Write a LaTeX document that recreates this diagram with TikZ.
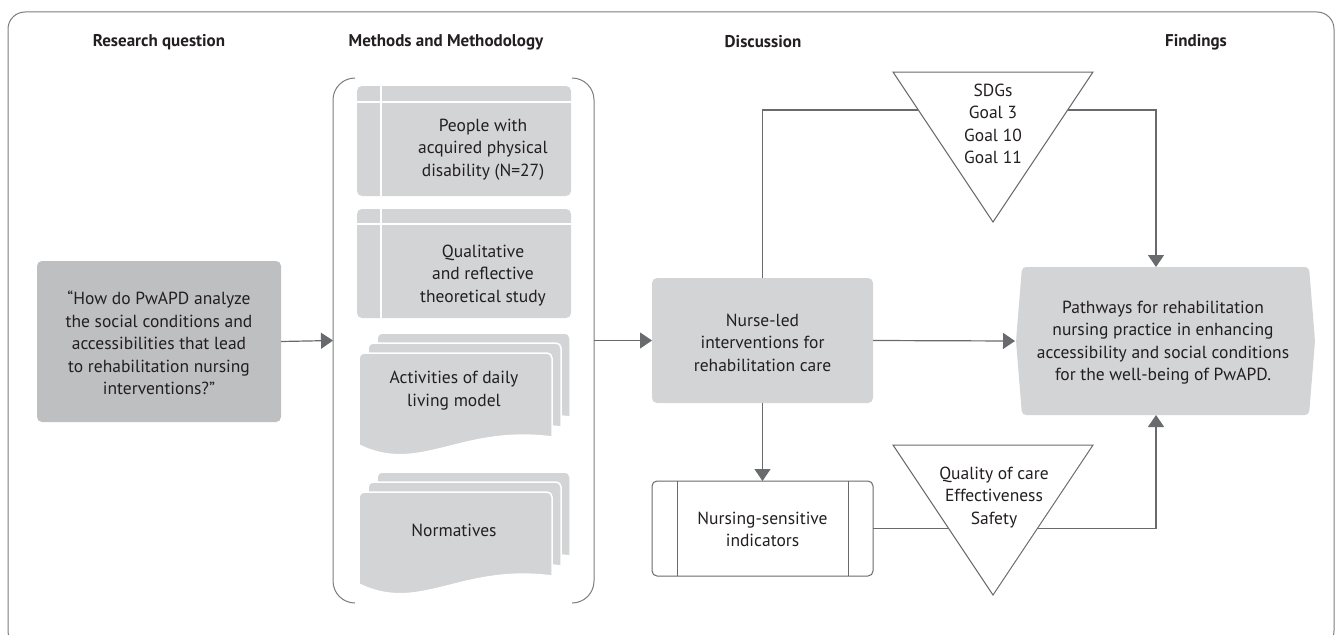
\documentclass[tikz,border=0pt]{standalone}
\usepackage{fontspec}
\setmainfont{PT Sans}
\usetikzlibrary{arrows.meta}

\definecolor{ink}{RGB}{35,31,32}
\definecolor{linegray}{RGB}{105,106,109}
\definecolor{boxlight}{RGB}{211,212,214}
\definecolor{boxdark}{RGB}{190,191,193}
\definecolor{framegray}{RGB}{125,125,127}

\tikzset{
  txt/.style={text=ink, font=\fontsize{17.5}{22.5}\selectfont, align=center, inner sep=0pt},
  heading/.style={text=ink, font=\fontsize{17}{20}\selectfont\bfseries, inner sep=0pt},
  conn/.style={draw=linegray, line width=1.2pt},
  arr/.style={conn, -{Triangle[length=12pt,width=16pt]}},
  slot/.style={inner sep=0pt, outer sep=0pt},
  sheet/.style={fill=boxlight, draw=white, line width=1.5pt},
  cut/.style={draw=white, line width=2pt},
}

% one sheet of a document stack: top-left corner, width 193, right side 84 deep
\newcommand{\docsheet}[2]{%
  \path[sheet] (#1,#2+92) [rounded corners=5pt] -- (#1,#2) -- (#1+193,#2)
    [sharp corners] -- (#1+193,#2+84)
    .. controls (#1+101,#2+72) and (#1+61,#2+122) .. (#1,#2+92) -- cycle;}
\newcommand{\docstack}[2]{%
  \docsheet{#1+18}{#2-20}\docsheet{#1+9}{#2-10}\docsheet{#1}{#2}}

\begin{document}
\begin{tikzpicture}[x=1pt,y=-1pt]
\useasboundingbox (0,0) rectangle (1340,634);
\clip (0,0) rectangle (1340,634);

% outer frame
\draw[framegray, line width=1pt, rounded corners=17pt] (8,12) rectangle (1334,648);

% column headings
\node[heading] (h1) at (159,42) {Research question};
\node[heading] (h2) at (446,42) {Methods and Methodology};
\node[heading] (h3) at (763,42) {Discussion};
\node[heading] (h4) at (1196,42) {Findings};

% research question
\node[slot, fill=boxdark, rounded corners=5pt, minimum width=244pt, minimum height=161pt]
  (rq) at (159,341.5) {};
\node[txt] (rqt) at (159,343) {“How do PwAPD analyze\\the social conditions and\\accessibilities that lead\\to rehabilitation nursing\\interventions?”};

% methods bracket
\node[slot, minimum width=261pt, minimum height=525pt] (meth) at (463.5,340.5) {};
\draw[framegray, line width=1pt, rounded corners=22pt]
  (355,78) -- (333,78) -- (333,603) -- (355,603);
\draw[framegray, line width=1pt, rounded corners=22pt]
  (572,78) -- (594,78) -- (594,603) -- (572,603);

% methods: two panels with a white cross cut
\node[slot, fill=boxlight, rounded corners=5pt, minimum width=214pt, minimum height=110pt]
  (m1) at (464,141) {};
\draw[cut] (381,86) -- (381,196);
\draw[cut] (357,102) -- (571,102);
\node[txt] (m1t) at (483,149.5) {People with\\acquired physical\\disability (N=27)};

\node[slot, fill=boxlight, rounded corners=5pt, minimum width=214pt, minimum height=109pt]
  (m2) at (464,263.5) {};
\draw[cut] (381,209) -- (381,318);
\draw[cut] (357,224) -- (571,224);
\node[txt] (m2t) at (483,275.5) {Qualitative\\and reflective\\theoretical study};

% methods: document stacks
\docstack{359}{353}
\node[txt] (m3t) at (454,390.5) {Activities of daily\\living model};
\docstack{359}{492}
\node[txt] (m4t) at (454,530) {Normatives};

% discussion
\node[slot, fill=boxlight, rounded corners=5pt, minimum width=221pt, minimum height=125pt]
  (nurse) at (762.5,340.5) {};
\node[txt] (nurset) at (762.5,342.5) {Nurse-led\\interventions for\\rehabilitation care};

\node[slot, draw=linegray, fill=white, line width=1pt, rounded corners=5pt,
  minimum width=221pt, minimum height=95pt] (nursing) at (762.5,528.5) {};
\draw[linegray, line width=1pt] (677,481) -- (677,576);
\draw[linegray, line width=1pt] (848,481) -- (848,576);
\node[txt] (nursingt) at (762.5,529.5) {Nursing-sensitive\\indicators};

% findings
\node[slot, minimum width=300pt, minimum height=148pt] (pathw) at (1165,341) {};
\path[fill=boxlight, rounded corners=4pt]
  (1022,267) -- (1309,267) -- (1315,341) -- (1309,415) -- (1022,415) -- (1016,341) -- cycle;
\node[txt] (pathwt) at (1163,342.5) {Pathways for rehabilitation\\nursing practice in enhancing\\accessibility and social conditions\\for the well-being of PwAPD.};

% connectors
\coordinate (tb) at (1156,110);
\coordinate (bb) at (1156,528.5);
\draw[arr] (rq.east) -- (meth.west);
\draw[arr] (meth.east) -- (nurse.west);
\draw[arr] (nurse.east) -- (pathw.west);
\draw[arr] (nurse.south) -- (nursing.north);
\draw[arr] (nurse.north) |- (tb) -- (tb |- pathw.north);
\draw[arr] (nursing.east) -- (bb) -- (bb |- pathw.south);

% triangles laid over the connectors
\draw[linegray, line width=1pt, fill=white] (893,72) -- (1093,72) -- (993,222) -- cycle;
\node[txt] (sdg) at (993,124) {SDGs\\Goal 3\\Goal 10\\Goal 11};
\draw[linegray, line width=1pt, fill=white] (893,445) -- (1093,445) -- (993,595) -- cycle;
\node[txt] (qual) at (994,497.5) {Quality of care\\Effectiveness\\Safety};
\end{tikzpicture}
\end{document}
